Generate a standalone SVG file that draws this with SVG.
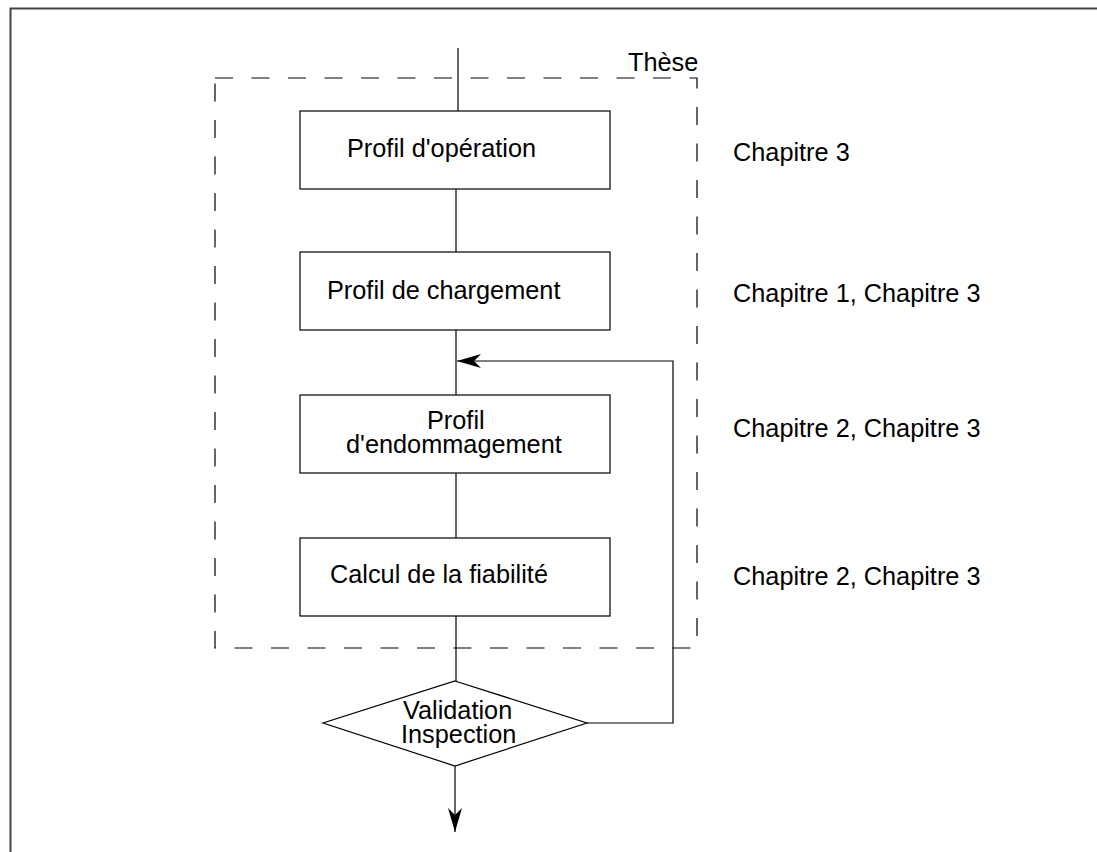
<svg xmlns="http://www.w3.org/2000/svg" width="1097" height="852" viewBox="0 0 1097 852">
<style>
text{font-family:"Liberation Sans",Arial,sans-serif;font-size:25.3px;fill:#000}
.box{fill:#fff;stroke:#000;stroke-width:1.2}
.ln{fill:none;stroke:#000;stroke-width:1.2}
.dash{fill:none;stroke:#000;stroke-width:1.2;stroke-dasharray:18 18.5}
</style>
<defs>
<marker id="ah" viewBox="0 0 24 14" refX="24" refY="7" markerWidth="24" markerHeight="14" markerUnits="userSpaceOnUse" orient="auto">
<path d="M24,7 L0,0 L7,7 L0,14 Z" fill="#000"/>
</marker>
</defs>
<rect width="1097" height="852" fill="#fff"/>
<path d="M10.5,852 V8.5 H1097" fill="none" stroke="#444" stroke-width="2"/>
<g id="these">
<rect class="dash" x="215" y="78" width="482" height="570"/>
<text x="628" y="71">Thèse</text>
</g>
<g id="connectors">
<line class="ln" x1="458" y1="48" x2="458" y2="111"/>
<line class="ln" x1="456" y1="189" x2="456" y2="252"/>
<line class="ln" x1="456" y1="330" x2="456" y2="395"/>
<line class="ln" x1="456" y1="473" x2="456" y2="538"/>
<line class="ln" x1="456" y1="616" x2="456" y2="681"/>
<path class="ln" d="M587,723 H673 V361 H457" marker-end="url(#ah)"/>
<line class="ln" x1="455" y1="766" x2="455" y2="832" marker-end="url(#ah)"/>
</g>
<g id="n1"><rect class="box" x="300" y="111" width="310" height="78"/><text x="347" y="157">Profil d'opération</text></g>
<g id="n2"><rect class="box" x="300" y="252" width="310" height="78"/><text x="327" y="299">Profil de chargement</text></g>
<g id="n3"><rect class="box" x="300" y="395" width="310" height="78"/><text x="427" y="429">Profil</text><text x="346" y="453">d'endommagement</text></g>
<g id="n4"><rect class="box" x="300" y="538" width="310" height="78"/><text x="330" y="583">Calcul de la fiabilité</text></g>
<g id="n5"><polygon class="box" points="455,681 587,723 455,766 323,723"/><text x="403" y="719">Validation</text><text x="401" y="743">Inspection</text></g>
<g id="labels">
<text x="733" y="161">Chapitre 3</text>
<text x="733" y="302">Chapitre 1, Chapitre 3</text>
<text x="733" y="437">Chapitre 2, Chapitre 3</text>
<text x="733" y="585">Chapitre 2, Chapitre 3</text>
</g>
</svg>
